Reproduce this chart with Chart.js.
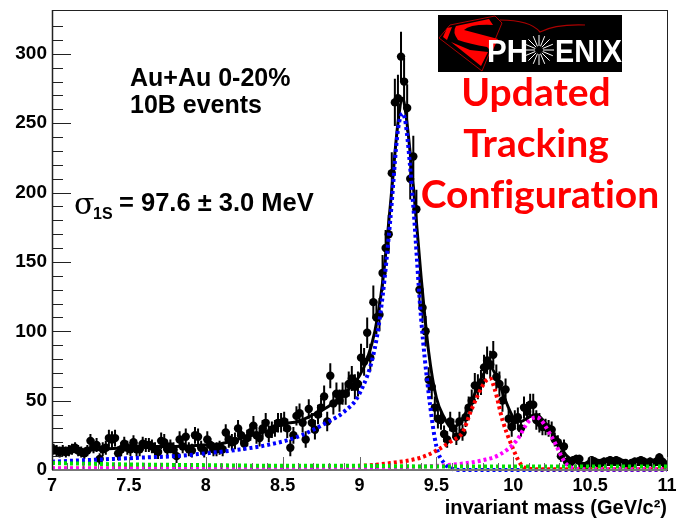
<!DOCTYPE html>
<html><head><meta charset="utf-8">
<style>html,body{margin:0;padding:0;background:#fff}#w{width:678px;height:520px}</style>
<script src="https://cdn.jsdelivr.net/npm/chart.js@4"></script></head>
<body><div id="w"><canvas id="c" width="678" height="520"></canvas></div>
<script>
const massBins=[7.01,7.03,7.05,7.07,7.09,7.11,7.13,7.15,7.17,7.19,7.21,7.23,7.25,7.27,7.29,7.31,7.33,7.35,7.37,7.39,
7.41,7.43,7.45,7.47,7.49,7.51,7.53,7.55,7.57,7.59,7.61,7.63,7.65,7.67,7.69,7.71,7.73,7.75,7.77,7.79,
7.81,7.83,7.85,7.87,7.89,7.91,7.93,7.95,7.97,7.99,8.01,8.03,8.05,8.07,8.09,8.11,8.13,8.15,8.17,8.19,
8.21,8.23,8.25,8.27,8.29,8.31,8.33,8.35,8.37,8.39,8.41,8.43,8.45,8.47,8.49,8.51,8.53,8.55,8.57,8.59,
8.61,8.63,8.65,8.67,8.69,8.71,8.73,8.75,8.77,8.79,8.81,8.83,8.85,8.87,8.89,8.91,8.93,8.95,8.97,8.99,
9.01,9.03,9.05,9.07,9.09,9.11,9.13,9.15,9.17,9.19,9.21,9.23,9.25,9.27,9.29,9.31,9.33,9.35,9.37,9.39,
9.41,9.43,9.45,9.47,9.49,9.51,9.53,9.55,9.57,9.59,9.61,9.63,9.65,9.67,9.69,9.71,9.73,9.75,9.77,9.79,
9.81,9.83,9.85,9.87,9.89,9.91,9.93,9.95,9.97,9.99,10.01,10.03,10.05,10.07,10.09,10.11,10.13,10.15,10.17,10.19,
10.21,10.23,10.25,10.27,10.29,10.31,10.33,10.35,10.37,10.39,10.41,10.43,10.45,10.47,10.49,10.51,10.53,10.55,10.57,10.59,
10.61,10.63,10.65,10.67,10.69,10.71,10.73,10.75,10.77,10.79,10.81,10.83,10.85,10.87,10.89,10.91,10.93,10.95,10.97,10.99];
const counts=[15,14,13,14,13,14,15,16,14,13,12,14,21,17,18,8,15,16,23,22,
23,12,15,19,16,15,20,15,15,19,18,18,17,15,13,21,20,15,17,15,
10,22,17,24,15,14,25,24,16,14,22,18,15,15,16,15,27,22,20,21,
30,25,19,23,27,32,25,23,30,34,26,29,30,34,34,35,30,16,25,39,
41,34,22,44,34,29,40,45,53,35,68,48,55,50,55,55,62,66,60,62,
81,78,99,81,121,110,112,142,160,170,214,265,268,298,280,261,210,226,188,130,
117,100,65,60,45,37,36,26,22,35,30,24,35,27,38,45,50,61,60,63,
74,79,76,83,67,62,50,58,37,31,36,38,30,45,42,47,47,36,34,31,
31,30,29,22,20,10,17,6,5,7,8,8,3,3,4,7,6,5,5,6,
6,7,6,7,6,5,5,3,5,6,6,7,6,5,6,5,6,9,6,4];
const errors=[4,4,4,4,4,4,4,4,4,4,4,4,5,5,5,4,5,5,6,6,
6,5,5,5,5,5,5,5,5,5,5,5,5,5,5,6,6,5,5,5,
5,6,5,6,5,5,6,6,5,5,6,5,5,5,5,5,6,6,6,6,
6,6,5,6,6,7,6,6,6,7,6,6,6,7,7,7,7,6,6,7,
7,7,6,7,7,7,7,7,8,7,9,8,8,8,8,8,9,9,9,9,
10,10,11,10,12,12,12,13,13,14,15,17,17,18,17,17,15,15,14,12,
11,11,9,9,8,7,7,6,6,7,7,6,7,6,7,8,8,9,9,9,
9,10,10,10,9,9,8,8,7,7,7,7,6,8,7,8,8,7,7,6,
6,6,6,5,5,4,5,3,3,3,3,3,2,2,3,3,3,3,3,3,
3,3,3,3,3,3,3,2,3,3,3,3,3,3,3,3,3,3,3,2];
const fitX=[7,7.2,7.4,7.6,7.8,8,8.1,8.2,8.3,8.4,8.5,8.6,8.7,8.8,8.9,9,9.05,9.1,9.15,9.2,9.25,9.28,9.3,9.35,9.4,9.45,9.5,9.55,9.6,9.65,9.7,9.75,9.8,9.85,9.9,9.95,10,10.05,10.1,10.15,10.2,10.25,10.3,10.35,10.4,10.45,10.5,11];
const fitTotal=[13,14,15.5,17,17,18,19,22,25,28,33,35,40,46,55,68,80,100,135,190,250,268,258,205,140,85,52,38,30,34,43,55,68,74,65,50,38,35,38,40,35,27,18,10,6,4,4,4];
const blueX=[7,7.2,7.4,7.6,7.8,8,8.2,8.4,8.6,8.8,8.9,9,9.1,9.15,9.2,9.25,9.28,9.3,9.35,9.4,9.45,9.5,9.55,9.6,9.65,11];
const blueY=[6,7,8,9,10,12,14.5,18,24,35,42,55,88,125,180,245,257,250,190,110,55,17,5,1,0,0];
const redX=[7,8,8.5,9,9.2,9.4,9.5,9.6,9.67,9.73,9.82,9.85,9.88,9.93,9.985,10.05,10.1,10.2,11];
const redY=[1,1.5,2,3,5,9,14,21,27,44,64,66,58,36,19,4,1,0.5,0.5];
const magentaX=[7,8,9,9.5,9.7,9.8,9.91,10.02,10.1,10.15,10.25,10.34,10.4,10.5,11];
const magentaY=[1,1,1.5,3,5,7,11,21,35,38,24,5,1,0.5,0.5];
const greenX=[7,7.5,8,8.5,9,9.5,10,10.5,11];
const greenY=[5,4,3.5,3,3,2.5,2.5,2.5,2.5];
const pts=(xs,ys)=>xs.map((x,i)=>({x,y:ys[i]}));
const errBars=[];
massBins.forEach((m,i)=>{errBars.push({x:m,y:counts[i]-errors[i]},{x:m,y:counts[i]+errors[i]},{x:m,y:null});});
const LB='"Liberation Sans"';
function dotted(label,xs,ys,color){return {label,data:pts(xs,ys),showLine:true,borderColor:color,backgroundColor:color,borderWidth:4,borderDash:[3,3],pointRadius:0,cubicInterpolationMode:'monotone',clip:false,order:1};}
const deco={id:'deco',
 afterDatasetsDraw(ch){
  const c=ch.ctx,a=ch.chartArea,xs=ch.scales.x,ys=ch.scales.y;
  c.save();
  c.strokeStyle='#222';c.lineWidth=1;
  c.strokeRect(a.left+.5,a.top+.5,a.right-a.left,a.bottom-a.top);
  ys.ticks.forEach(t=>{const y=Math.round(ys.getPixelForValue(t.value))+.5,l=t.value%50===0?19:11;
    c.beginPath();c.moveTo(a.left,y);c.lineTo(a.left+l,y);c.stroke();});
  c.strokeStyle='#666';
  xs.ticks.forEach(t=>{const x=Math.round(xs.getPixelForValue(t.value))+.5,l=Math.abs(t.value*2-Math.round(t.value*2))<1e-6?13:7;
    c.beginPath();c.moveTo(x,a.bottom);c.lineTo(x,a.bottom-l);c.stroke();});
  c.lineWidth=2;c.strokeStyle='#777';c.beginPath();c.moveTo(a.left,a.bottom);c.lineTo(a.right,a.bottom);c.stroke();
  c.strokeStyle='#222';c.lineWidth=1.5;c.beginPath();c.moveTo(a.left+.5,a.top);c.lineTo(a.left+.5,a.bottom);c.stroke();
  // text
  c.textBaseline='alphabetic';c.textAlign='left';c.fillStyle='#000';
  c.font='bold 25px '+LB;
  c.fillText('Au+Au 0-20%',130,86);
  c.fillText('10B events',130,113);
  c.font='30px "DejaVu Serif"';c.fillText('σ',74,214);
  c.font='bold 16px '+LB;c.fillText('1S',93,219);
  c.font='bold 25.5px '+LB;c.fillText('= 97.6 ± 3.0 MeV',119,211);
  c.fillStyle='#f00';c.textAlign='center';c.font='bold 39px Lato';c.textRendering='optimizeSpeed';
  c.fillText('Updated',536,106);
  c.fillText('Tracking',536,157);
  c.fillText('Configuration',540,208);
  c.textRendering='auto';
  // logo
  c.fillStyle='#000';c.fillRect(438,15,184,57);
  c.strokeStyle='#a00';c.lineWidth=1;c.beginPath();
  c.moveTo(450,25);c.lineTo(495,16);c.lineTo(502,23);c.lineTo(482,71);c.lineTo(439,38);c.closePath();c.stroke();
  c.strokeStyle='#a00';c.lineWidth=1.2;c.beginPath();c.moveTo(500,20);c.quadraticCurveTo(530,20,540,32);c.quadraticCurveTo(555,24,585,25);c.stroke();
  c.fillStyle='#f00';
  c.beginPath();c.moveTo(447,28);c.lineTo(452,27);c.lineTo(447,40);c.lineTo(443,37);c.closePath();c.fill();
  c.beginPath();c.moveTo(456,26);c.lineTo(489,19);c.lineTo(493,25);c.quadraticCurveTo(470,24,464,30);c.lineTo(498,39);c.lineTo(492,52);c.lineTo(487,47);c.quadraticCurveTo(470,44,458,40);c.quadraticCurveTo(452,32,456,26);c.closePath();c.fill();
  c.beginPath();c.moveTo(451,42);c.lineTo(470,50);c.lineTo(488,52);c.lineTo(481,66);c.closePath();c.fill();
  c.fillStyle='#fff';c.textAlign='left';c.font='bold 32px '+LB;
  c.fillText('PH',487,62,41);
  c.fillText('ENIX',555,62,67);
  c.strokeStyle='#fff';c.lineWidth=1;
  [0,22.5,45,67.5,90,112.5,135,157.5,180,202.5,225,247.5,270,292.5,315,337.5].forEach(d=>{
    const r=d*Math.PI/180;c.beginPath();c.moveTo(539+4*Math.cos(r),50+4*Math.sin(r));c.lineTo(539+15*Math.cos(r),50+15*Math.sin(r));c.stroke();});
  c.restore();
 }};
new Chart(document.getElementById('c'),{
 type:'scatter',
 data:{datasets:[
  dotted('Green',greenX,greenY,'#00e000'),
  dotted('Magenta',magentaX,magentaY,'#f0f'),
  dotted('Red',redX,redY,'#f00'),
  dotted('Blue',blueX,blueY,'#00f'),
  {label:'Total fit',data:pts(fitX,fitTotal),showLine:true,borderColor:'#000',borderWidth:3,pointRadius:0,cubicInterpolationMode:'monotone',order:2},
  {label:'Data',data:pts(massBins,counts),showLine:false,pointRadius:4.2,pointBackgroundColor:'#000',pointBorderColor:'#000',pointBorderWidth:0,order:3},
  {label:'Errors',data:errBars,showLine:true,spanGaps:false,borderColor:'#000',borderWidth:2,pointRadius:0,order:4}
 ]},
 options:{responsive:false,animation:false,
  layout:{padding:{left:0,right:11,top:10,bottom:0}},
  plugins:{legend:{display:false},tooltip:{enabled:false}},
  scales:{
   x:{type:'linear',min:7,max:11,
    afterFit(s){s.height=50;s.paddingLeft=0;s.paddingRight=0;},
    grid:{display:false,tickLength:0},border:{display:false},
    ticks:{stepSize:0.1,autoSkip:false,maxRotation:0,padding:5,color:'#000',font:{family:'Liberation Sans',weight:'bold',size:18},
      callback:v=>Math.abs(v*2-Math.round(v*2))<1e-6?String(Math.round(v*2)/2):''},
    title:{display:true,text:'invariant mass (GeV/c²)',align:'end',color:'#000',padding:{top:3,bottom:0},font:{family:'Liberation Sans',weight:'bold',size:20}}
   },
   y:{type:'linear',min:0,max:331.6,
    afterFit(s){s.width=52;s.paddingTop=0;s.paddingBottom=0;},
    grid:{display:false,tickLength:0},border:{display:false},
    ticks:{stepSize:10,autoSkip:false,padding:5,color:'#000',font:{family:'Liberation Sans',weight:'bold',size:19},
      callback:v=>v%50===0?String(v):''}
   }
  }
 },
 plugins:[deco]
});
</script></body></html>
